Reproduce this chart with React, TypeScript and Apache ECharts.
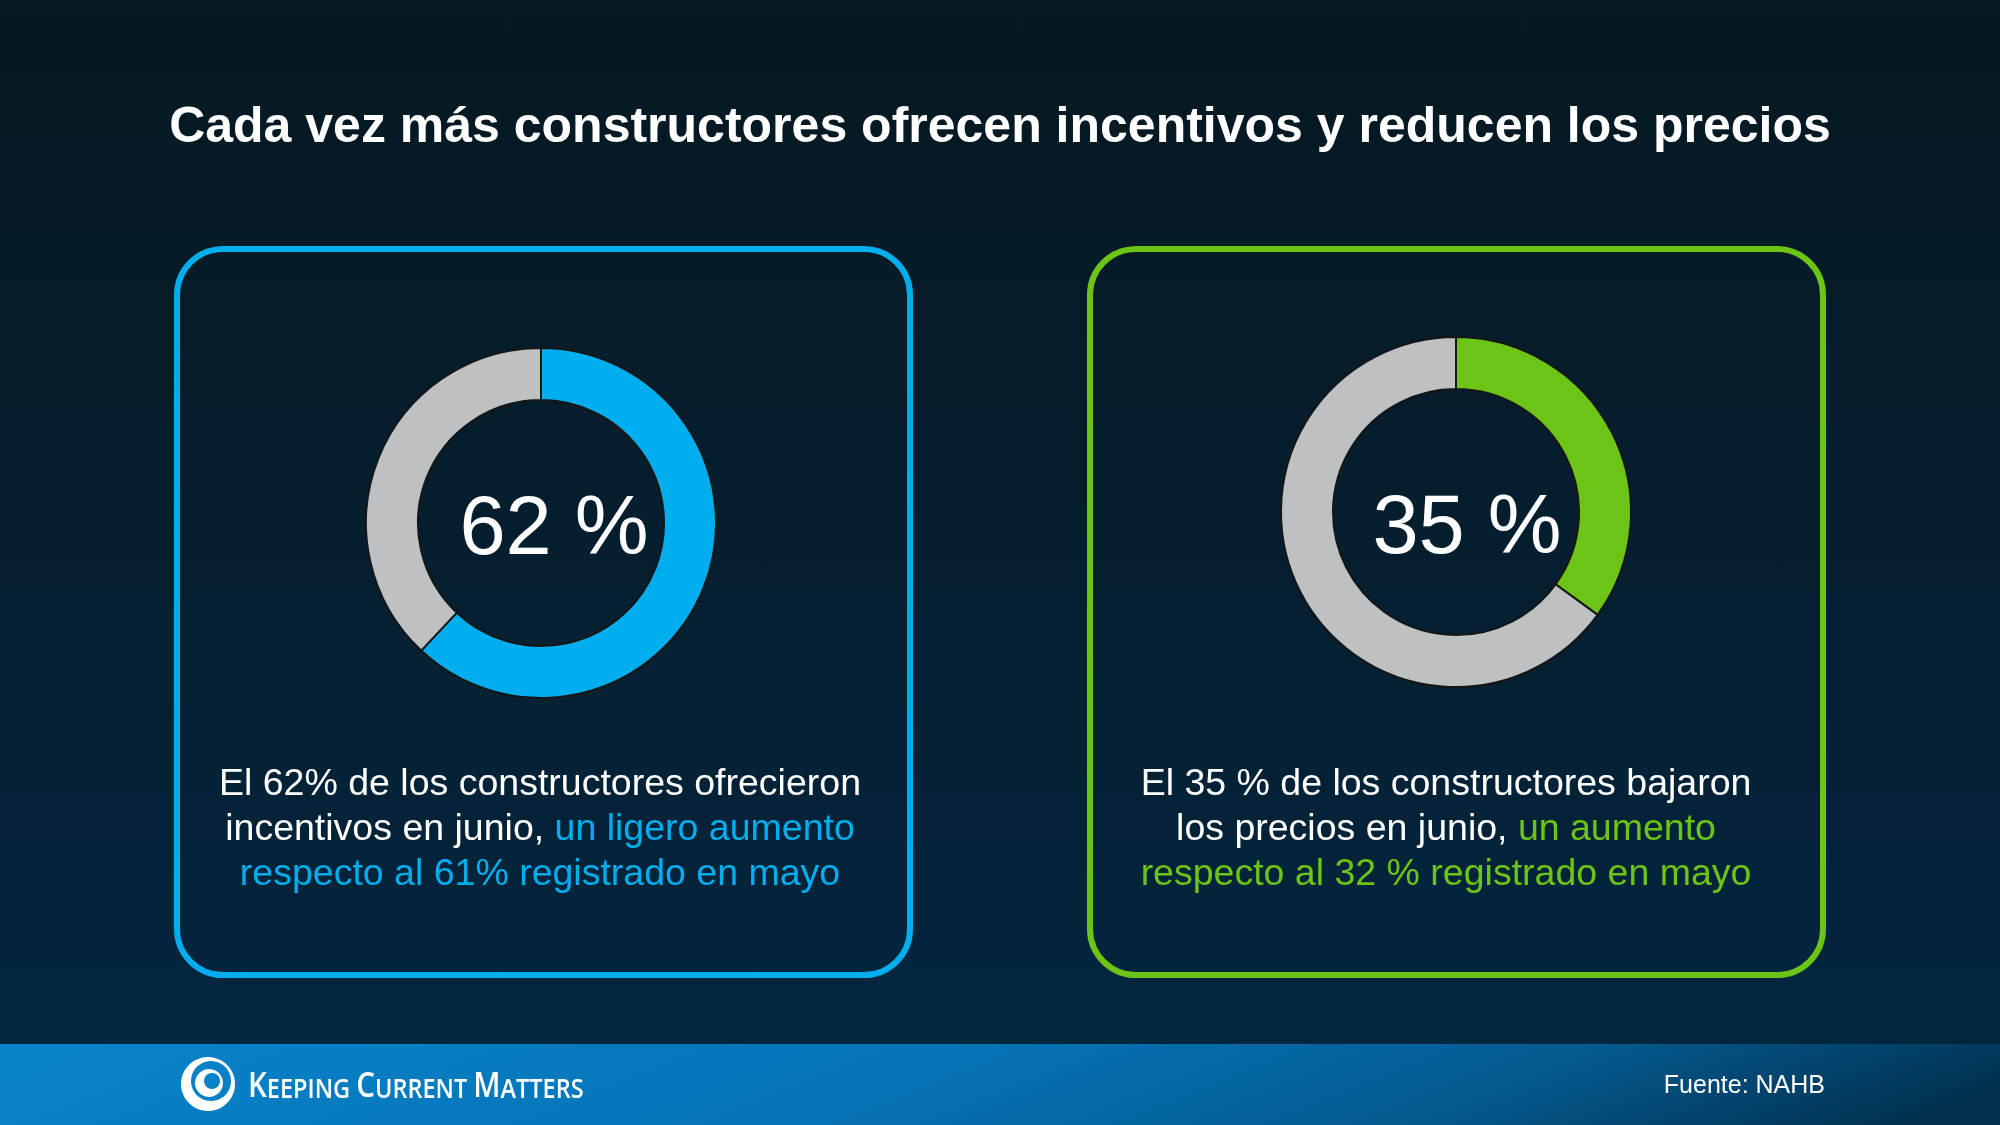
import React, { useEffect, useRef } from "react";
import * as echarts from "echarts";

// ---- data ----
const headline = "Cada vez más constructores ofrecen incentivos y reducen los precios";
const metricNames = ["Incentivos", "Reducción de precios"];
const juneShares = [62, 35];
const mayShares = [61, 32];
const centerLabels = ["62 %", "35 %"];
const accentColors = ["#00AEEF", "#6CC417"];
const restColor = "#BEC1C2";
const sourceText = "Fuente: NAHB";
const brandParts = [
  ["K", "EEPING "],
  ["C", "URRENT "],
  ["M", "ATTERS"],
];

// caption lines: [text, isAccent]
const captionLines: [string, boolean][][] = [
  [[`El ${juneShares[0]}% de los constructores ofrecieron`, false]],
  [
    ["incentivos en junio, ", false],
    ["un ligero aumento", true],
  ],
  [[`respecto al ${mayShares[0]}% registrado en mayo`, true]],
];
const captionLines2: [string, boolean][][] = [
  [[`El ${juneShares[1]} % de los constructores bajaron`, false]],
  [
    ["los precios en junio, ", false],
    ["un aumento", true],
  ],
  [[`respecto al ${mayShares[1]} % registrado en mayo`, true]],
];

const FONT = "'Liberation Sans', Arial, Helvetica, sans-serif";

function captionText(lines: [string, boolean][][], cx: number, ys: number[], accent: string) {
  return lines.map((segs, i) => ({
    type: "text",
    z: 100,
    x: cx,
    y: ys[i],
    style: {
      text: segs.map(([t, a]) => `{${a ? "a" : "w"}|${t}}`).join(""),
      align: "center",
      verticalAlign: "middle",
      rich: {
        w: { fill: "#FFFFFF", fontSize: 37.5, fontFamily: FONT },
        a: { fill: accent, fontSize: 37.5, fontFamily: FONT },
      },
    },
  }));
}

function donut(idx: number, center: [number, number]) {
  return {
    type: "pie",
    name: metricNames[idx],
    center,
    radius: [123, 175],
    startAngle: 90,
    clockwise: true,
    silent: true,
    label: { show: false },
    labelLine: { show: false },
    itemStyle: { borderColor: "#161616", borderWidth: 2 },
    data: [
      { name: metricNames[idx], value: juneShares[idx], itemStyle: { color: accentColors[idx] } },
      { name: "Resto", value: 100 - juneShares[idx], itemStyle: { color: restColor } },
    ],
  };
}

export default function App() {
  const ref = useRef<HTMLDivElement>(null);

  useEffect(() => {
    if (!ref.current) return;
    const chart = echarts.init(ref.current, undefined, { renderer: "svg" });
    const capY = [782, 827, 872];

    const brandRich = brandParts
      .map(([big, small]) => `{b|${big}}{s|${small}}`)
      .join("");

    chart.setOption({
      animation: false,
      series: [donut(0, [541, 523]), donut(1, [1456, 512])],
      graphic: [
        {
          type: "rect",
          z: -10,
          shape: { x: 0, y: 0, width: 2000, height: 1125 },
          style: {
            fill: {
              type: "linear",
              x: 0,
              y: 0,
              x2: 0,
              y2: 1,
              colorStops: [
                { offset: 0, color: "#061821" },
                { offset: 0.5, color: "#051F30" },
                { offset: 0.92, color: "#03263F" },
              ],
            },
          },
        },
        // footer band
        {
          type: "rect",
          z: -5,
          shape: { x: 0, y: 1044, width: 2000, height: 81 },
          style: {
            fill: {
              type: "linear",
              x: 0,
              y: 0.45,
              x2: 1,
              y2: 0.55,
              colorStops: [
                { offset: 0, color: "#0882C9" },
                { offset: 0.45, color: "#0573B6" },
                { offset: 0.75, color: "#045A8F" },
                { offset: 1, color: "#01304F" },
              ],
            },
          },
        },
        // outlined panels
        {
          type: "rect",
          z: 1,
          shape: { x: 177, y: 249, width: 733, height: 726, r: 46 },
          style: { fill: "transparent", stroke: accentColors[0], lineWidth: 6 },
        },
        {
          type: "rect",
          z: 1,
          shape: { x: 1090, y: 249, width: 733, height: 726, r: 46 },
          style: { fill: "transparent", stroke: accentColors[1], lineWidth: 6 },
        },
        {
          type: "text",
          z: 100,
          x: 1000,
          y: 125,
          style: {
            text: headline,
            fill: "#FFFFFF",
            fontSize: 50,
            fontWeight: "bold",
            fontFamily: FONT,
            align: "center",
            verticalAlign: "middle",
          },
        },
        {
          type: "text",
          z: 100,
          x: 554,
          y: 525,
          style: {
            text: centerLabels[0],
            fill: "#FFFFFF",
            fontSize: 83,
            fontFamily: FONT,
            align: "center",
            verticalAlign: "middle",
          },
        },
        {
          type: "text",
          z: 100,
          x: 1467,
          y: 524,
          style: {
            text: centerLabels[1],
            fill: "#FFFFFF",
            fontSize: 83,
            fontFamily: FONT,
            align: "center",
            verticalAlign: "middle",
          },
        },
        ...captionText(captionLines, 540, capY, accentColors[0]),
        ...captionText(captionLines2, 1446, capY, accentColors[1]),
        // brand mark
        { type: "circle", z: 100, shape: { cx: 208, cy: 1084, r: 27 }, style: { fill: "#FFFFFF" } },
        { type: "circle", z: 101, shape: { cx: 211, cy: 1081, r: 20 }, style: { fill: "#0881C7" } },
        { type: "circle", z: 102, shape: { cx: 209, cy: 1083, r: 14 }, style: { fill: "#FFFFFF" } },
        { type: "circle", z: 103, shape: { cx: 212, cy: 1081, r: 8 }, style: { fill: "#0881C7" } },
        {
          type: "text",
          z: 100,
          x: 248,
          y: 1084,
          scaleX: 0.87,
          style: {
            text: brandRich,
            verticalAlign: "middle",
            align: "left",
            rich: {
              b: { fill: "#FFFFFF", fontSize: 34, fontFamily: "'Open Sans', sans-serif", fontWeight: 600, verticalAlign: "bottom" },
              s: { fill: "#FFFFFF", fontSize: 27, fontFamily: "'Open Sans', sans-serif", fontWeight: 600, verticalAlign: "bottom" },
            },
          },
        },
        {
          type: "text",
          z: 100,
          x: 1825,
          y: 1084,
          style: {
            text: sourceText,
            fill: "#FFFFFF",
            fontSize: 25,
            fontFamily: FONT,
            align: "right",
            verticalAlign: "middle",
          },
        },
      ],
    });
    return () => chart.dispose();
  }, []);

  return (
    <div
      ref={ref}
      style={{ position: "fixed", left: 0, top: 0, width: 2000, height: 1125 }}
    />
  );
}
